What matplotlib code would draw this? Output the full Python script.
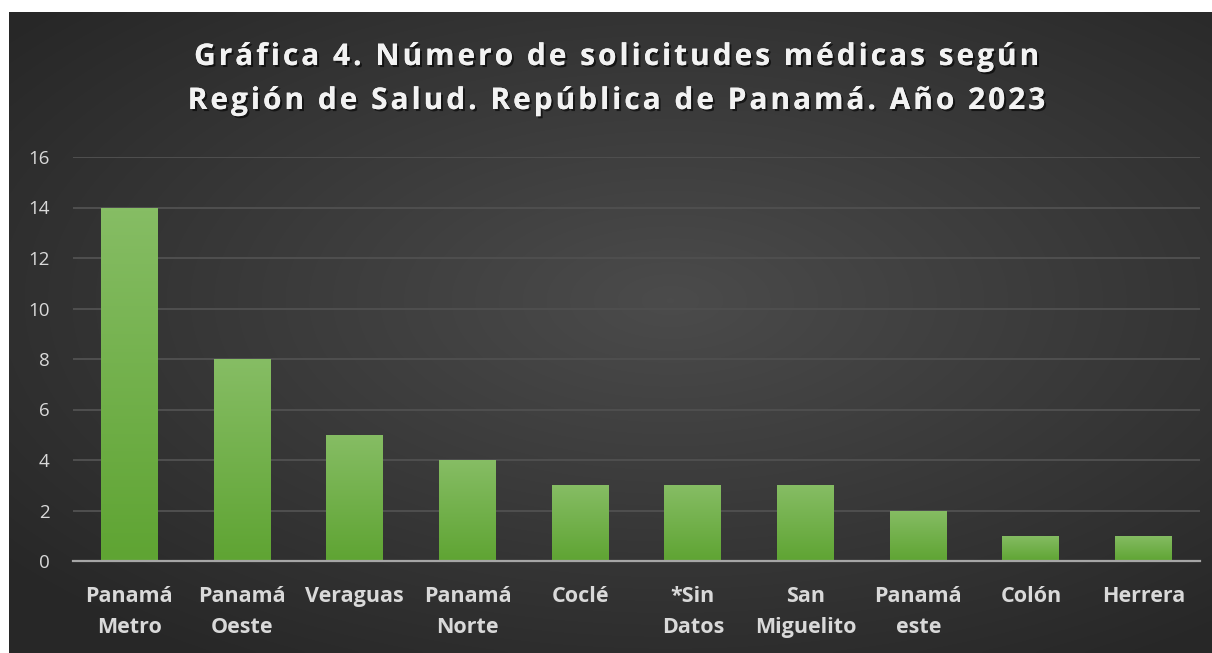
import numpy as np
import matplotlib.pyplot as plt
import matplotlib.patheffects as pe

regiones = ['Panamá\nMetro', 'Panamá\nOeste', 'Veraguas', 'Panamá\nNorte', 'Coclé',
            '*Sin\nDatos', 'San\nMiguelito', 'Panamá\neste', 'Colón', 'Herrera']
solicitudes = [14, 8, 5, 4, 3, 3, 3, 2, 1, 1]
y_ticks = [0, 2, 4, 6, 8, 10, 12, 14, 16]
titulo = ['Gráfica 4. Número de solicitudes médicas según',
          'Región de Salud. República de Panamá. Año 2023']

W, H = 1212, 653
fig = plt.figure(figsize=(W / 100, H / 100), dpi=100)
fig.patch.set_facecolor('white')

# fondo oscuro con degradado radial
bg = fig.add_axes([9 / W, 0, 1 - 9 / W, 1 - 12 / H])
bg.set_axis_off()
yy, xx = np.mgrid[-1:1:200j, -1:1:400j]
r = np.sqrt(((xx - 0.1) * 0.85) ** 2 + ((yy + 0.1) * 0.9) ** 2)
r = np.clip(r, 0, 1.2) / 1.2
g = 0.295 - 0.14 * r
img = np.dstack([g, g, g])
bg.imshow(img, aspect='auto', extent=[0, 1, 0, 1], interpolation='bicubic')
bg.set_xlim(0, 1)
bg.set_ylim(0, 1)

ax = fig.add_axes([73 / W, 1 - 561 / H, (1200 - 73) / W, (561 - 157) / H])
ax.patch.set_alpha(0)
x = np.arange(len(regiones))
bars = ax.bar(x, solicitudes, width=0.505, color='#70ad47', zorder=3)

# degradado en las barras
grad = np.linspace(0, 1, 100).reshape(-1, 1)
top = np.array([0x86, 0xbd, 0x64]) / 255
bot = np.array([0x5f, 0xa4, 0x33]) / 255
gimg = (bot + (top - bot) * grad[:, :, None] * np.ones((1, 2, 1)))
for b in bars:
    bx, by = b.get_x(), b.get_y()
    bw, bh = b.get_width(), b.get_height()
    im = ax.imshow(gimg, extent=[bx, bx + bw, by, by + bh], origin='lower',
                   aspect='auto', zorder=4)
    im.set_clip_path(b)

ax.set_xlim(-0.5, len(regiones) - 0.5)
ax.set_ylim(0, 16)
ax.set_yticks(y_ticks)
ax.set_yticklabels([str(v) for v in y_ticks], color='#d9d9d9', fontsize=13.5,
                   family='Open Sans')
ax.set_xticks(x)
ax.set_xticklabels(regiones, color='#d9d9d9', fontsize=15.5, fontweight='bold',
                   family='Open Sans', linespacing=1.65)
ax.tick_params(axis='both', length=0)
ax.tick_params(axis='x', pad=18)
ax.tick_params(axis='y', pad=17)
ax.grid(axis='y', color='#4f4f4f', linewidth=1.4, zorder=0)
for s in ['top', 'right', 'left']:
    ax.spines[s].set_visible(False)
ax.spines['bottom'].set_color('#a6a6a6')
ax.spines['bottom'].set_linewidth(1.6)
ax.spines['bottom'].set_zorder(5)

# título con espaciado entre letras
sombra = [pe.withSimplePatchShadow(offset=(1.5, -1.5), shadow_rgbFace='black', alpha=0.6),
          pe.Normal()]
for i, linea in enumerate(titulo):
    espaciada = '\u200a'.join(linea)
    fig.text(0.5095, 1 - (57 + 44 * i) / H, espaciada, ha='center', va='center',
             color='#f2f2f2', fontsize=21.5, fontweight='bold',
             family=['Open Sans', 'DejaVu Sans'], path_effects=sombra)

fig.savefig('out.png', dpi=100)
